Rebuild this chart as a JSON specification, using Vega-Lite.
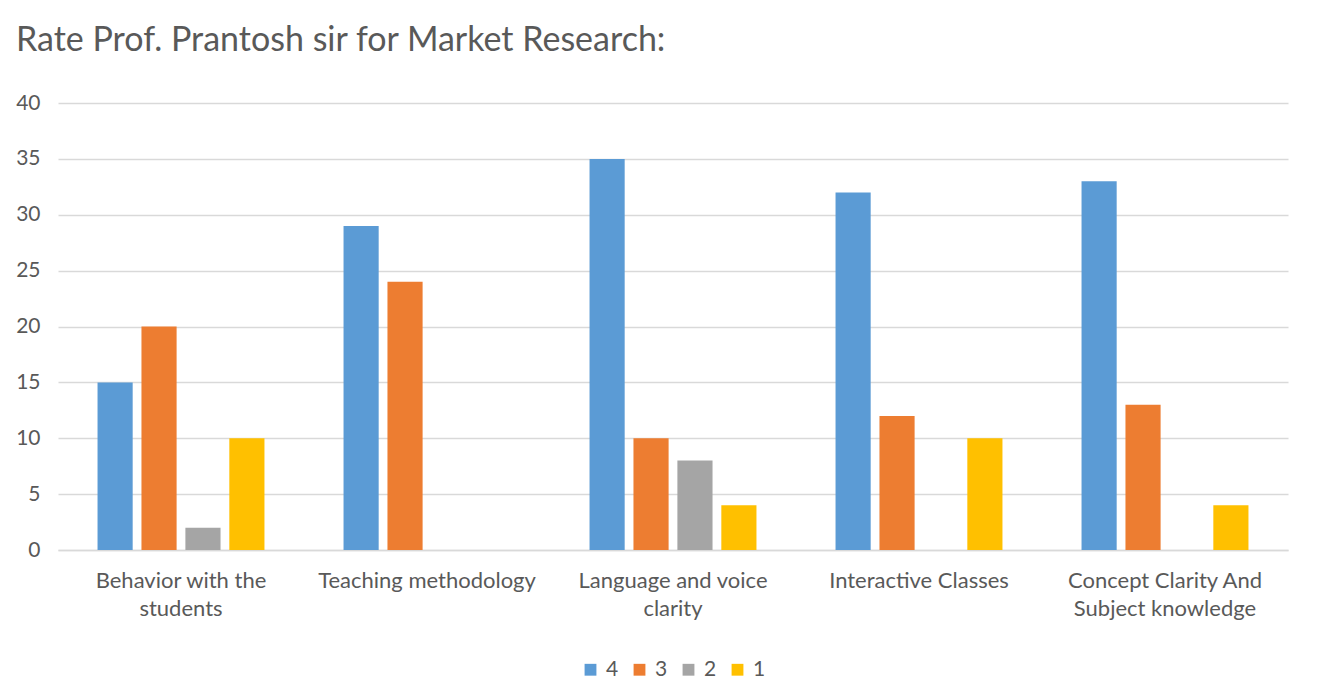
{
  "$schema": "https://vega.github.io/schema/vega-lite/v6.json",
  "autosize": {"type": "none"},
  "width": 1230,
  "height": 447,
  "padding": {"left": 58, "top": 103, "right": 44, "bottom": 150},
  "background": "white",
  "title": {
    "text": "Rate Prof. Prantosh sir for Market Research:",
    "anchor": "start",
    "frame": "group",
    "dx": -42,
    "offset": 34,
    "font": "Lato",
    "fontSize": 34,
    "fontWeight": "normal",
    "color": "#595959"
  },
  "data": {
    "values": [
      {"category": "Behavior with the students", "rating": "4", "count": 15},
      {"category": "Behavior with the students", "rating": "3", "count": 20},
      {"category": "Behavior with the students", "rating": "2", "count": 2},
      {"category": "Behavior with the students", "rating": "1", "count": 10},
      {"category": "Teaching methodology", "rating": "4", "count": 29},
      {"category": "Teaching methodology", "rating": "3", "count": 24},
      {"category": "Teaching methodology", "rating": "2", "count": 0},
      {"category": "Teaching methodology", "rating": "1", "count": 0},
      {"category": "Language and voice clarity", "rating": "4", "count": 35},
      {"category": "Language and voice clarity", "rating": "3", "count": 10},
      {"category": "Language and voice clarity", "rating": "2", "count": 8},
      {"category": "Language and voice clarity", "rating": "1", "count": 4},
      {"category": "Interactive Classes", "rating": "4", "count": 32},
      {"category": "Interactive Classes", "rating": "3", "count": 12},
      {"category": "Interactive Classes", "rating": "2", "count": 0},
      {"category": "Interactive Classes", "rating": "1", "count": 10},
      {"category": "Concept Clarity And Subject knowledge", "rating": "4", "count": 33},
      {"category": "Concept Clarity And Subject knowledge", "rating": "3", "count": 13},
      {"category": "Concept Clarity And Subject knowledge", "rating": "2", "count": 0},
      {"category": "Concept Clarity And Subject knowledge", "rating": "1", "count": 4}
    ]
  },
  "mark": {"type": "bar"},
  "encoding": {
    "x": {
      "field": "category",
      "type": "nominal",
      "sort": null,
      "scale": {"paddingInner": 0, "paddingOuter": 0},
      "axis": {
        "title": null,
        "labelAngle": 0,
        "labelFont": "Lato",
        "labelFontSize": 22,
        "labelColor": "#595959",
        "labelPadding": 20,
        "labelLineHeight": 28,
        "labelLimit": 0,
        "labelExpr": "datum.label == 'Behavior with the students' ? ['Behavior with the', 'students'] : datum.label == 'Language and voice clarity' ? ['Language and voice', 'clarity'] : datum.label == 'Concept Clarity And Subject knowledge' ? ['Concept Clarity And', 'Subject knowledge'] : datum.label",
        "ticks": false,
        "domainColor": "#D9D9D9",
        "domainWidth": 1.5,
        "grid": false
      }
    },
    "xOffset": {
      "field": "rating",
      "sort": ["4", "3", "2", "1"],
      "scale": {"paddingInner": 0.2, "paddingOuter": 0.9}
    },
    "y": {
      "field": "count",
      "type": "quantitative",
      "scale": {"domain": [0, 40]},
      "axis": {
        "title": null,
        "values": [0, 5, 10, 15, 20, 25, 30, 35, 40],
        "labelFont": "Lato",
        "labelFontSize": 21,
        "labelColor": "#595959",
        "labelPadding": 18,
        "ticks": false,
        "domain": false,
        "gridColor": "#D9D9D9",
        "gridWidth": 1.5
      }
    },
    "color": {
      "field": "rating",
      "type": "nominal",
      "sort": ["4", "3", "2", "1"],
      "scale": {"domain": ["4", "3", "2", "1"], "range": ["#5B9BD5", "#ED7D31", "#A5A5A5", "#FFC000"]},
      "legend": {
        "title": null,
        "orient": "bottom",
        "direction": "horizontal",
        "symbolType": "square",
        "symbolSize": 140,
        "symbolStrokeWidth": 0,
        "labelFont": "Lato",
        "labelFontSize": 21,
        "labelColor": "#595959",
        "columnPadding": 10,
        "labelOffset": 5,
        "offset": 40
      }
    }
  },
  "config": {
    "view": {"stroke": null},
    "legend": {"layout": {"bottom": {"anchor": "middle"}}}
  }
}
